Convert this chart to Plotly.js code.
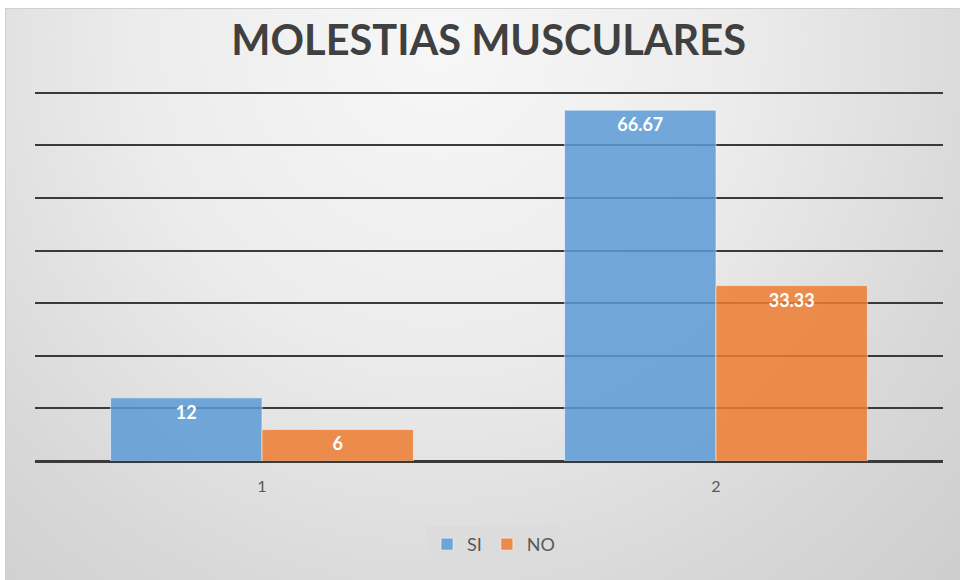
<!DOCTYPE html>
<html><head><meta charset="utf-8">
<script src="https://cdn.plot.ly/plotly-3.0.1.min.js"></script>
<style>
html,body{margin:0;padding:0;background:#fff;}
#bg{position:absolute;left:5px;top:8px;width:960px;height:580px;border:1px solid #d0d0d0;
background:radial-gradient(ellipse at 45% 5%, #f7f7f7 0%, #ececec 40%, #d8d8d8 75%, #cdcdcd 100%);}
#chart{position:absolute;left:0;top:0;width:960px;height:580px;}
</style></head><body>
<div id="bg"></div>
<div id="chart"></div>
<script>
const categories = ["1", "2"];
const siValues = [12, 66.67];
const noValues = [6, 33.33];
const siLabels = ["12", "66.67"];
const noLabels = ["6", "33.33"];

const common = {
  type: 'bar', textposition: 'inside', insidetextanchor: 'end',
  textfont: {family: 'Lato, "Open Sans", sans-serif', size: 18, color: '#ffffff', weight: 'bold'},
  hoverinfo: 'none'
};
const traces = [
  Object.assign({}, common, {name: 'SI', x: categories, y: siValues, text: siLabels,
    marker: {color: 'rgba(91,155,213,0.85)', line: {color: 'rgba(255,255,255,0.5)', width: 1}}}),
  Object.assign({}, common, {name: 'NO', x: categories, y: noValues, text: noLabels,
    marker: {color: 'rgba(237,125,49,0.85)', line: {color: 'rgba(255,255,255,0.5)', width: 1}}})
];
const layout = {
  width: 960, height: 580,
  paper_bgcolor: 'rgba(0,0,0,0)', plot_bgcolor: 'rgba(0,0,0,0)',
  margin: {l: 35, r: 17, t: 90, b: 119},
  title: {text: 'MOLESTIAS MUSCULARES', x: 0.509, xanchor: 'center', y: 0.93, yanchor: 'middle',
    font: {family: 'Lato, "Open Sans", sans-serif', size: 41.5, color: '#404040', weight: 'bold'}},
  barmode: 'group', bargap: 0.333, bargroupgap: 0,
  xaxis: {type: 'category', showgrid: false, zeroline: false, showline: false, ticks: '',
    tickfont: {family: 'Lato, "Open Sans", sans-serif', size: 16, color: '#595959'}, ticklabelstandoff: 14},
  yaxis: {range: [0, 70.5], dtick: 10, showticklabels: false, showgrid: true, gridcolor: '#3a3a3a', gridwidth: 2,
    zeroline: true, zerolinecolor: '#3a3a3a', zerolinewidth: 3, showline: false, layer: 'below traces'},
  showlegend: true,
  legend: {orientation: 'h', x: 0.505, xanchor: 'center', y: -0.175, yanchor: 'top',
    bgcolor: '#dcdcdc', borderwidth: 0, itemwidth: 30,
    font: {family: 'Lato, "Open Sans", sans-serif', size: 18, color: '#595959'}}
};
Plotly.newPlot('chart', traces, layout, {displayModeBar: false, staticPlot: true});
</script>
</body></html>
